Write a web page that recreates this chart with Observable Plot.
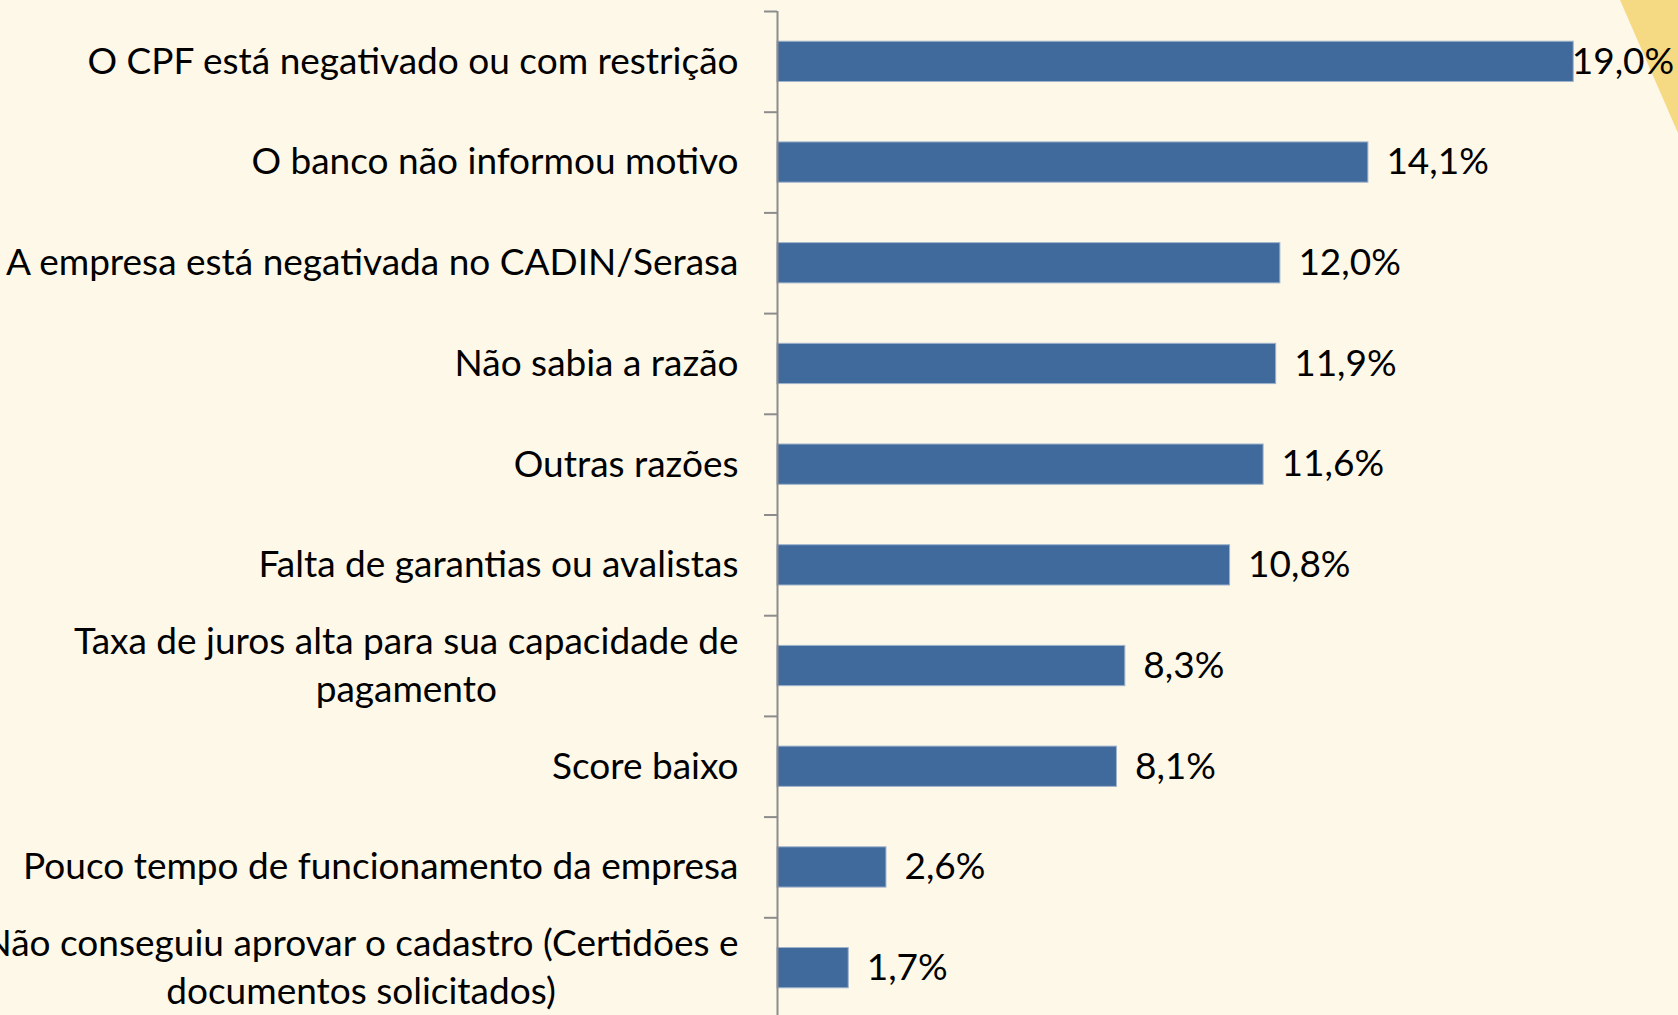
<!DOCTYPE html>
<html>
<head>
<meta charset="utf-8">
<script src="https://cdn.jsdelivr.net/npm/d3@7"></script>
<script src="https://cdn.jsdelivr.net/npm/@observablehq/plot@0.6"></script>
<style>
  html, body { margin: 0; padding: 0; background: #fef8e9; overflow: hidden; }
  #wrap { position: relative; width: 1678px; height: 1015px; overflow: hidden; }
  #tri { position: absolute; left: 0; top: 0; width: 1678px; height: 1015px; z-index: 0;
         background: #f6d983; clip-path: polygon(1620px 0, 1678px 0, 1678px 133px); }
  #chart { position: absolute; left: 0; top: 0; z-index: 1; }
</style>
</head>
<body>
<div id="wrap"><div id="tri"></div><div id="chart"></div></div>
<script>
const categories = [
  "O CPF está negativado ou com restrição",
  "O banco não informou motivo",
  "A empresa está negativada no CADIN/Serasa",
  "Não sabia a razão",
  "Outras razões",
  "Falta de garantias ou avalistas",
  "Taxa de juros alta para sua capacidade de\npagamento",
  "Score baixo",
  "Pouco tempo de funcionamento da empresa",
  "Não conseguiu aprovar o cadastro (Certidões e\ndocumentos solicitados)"
];
const values = [19.0, 14.1, 12.0, 11.9, 11.6, 10.8, 8.3, 8.1, 2.6, 1.7];

const data = categories.map((c, i) => ({cat: c, value: values[i]}));
const maxValue = d3.max(values);
const fmt = v => v.toFixed(1).replace(".", ",") + "%";

const W = 1678, H = 1015, mTop = 11, mBottom = -3, mLeft = 777;
const halfStep = (H - mTop - mBottom) / categories.length / 2;
const FS = 37, LH = 1.3;
const lhFix = -0.32 * (LH - 1) * FS;

const plot = Plot.plot({
  width: W,
  height: H,
  marginLeft: mLeft,
  marginRight: 0,
  marginTop: mTop,
  marginBottom: mBottom,
  style: {background: "transparent", fontFamily: "Lato, 'Open Sans', sans-serif", fontSize: FS + "px", color: "#000", overflow: "visible"},
  x: {domain: [0, 21.5], axis: null, round: false},
  y: {domain: categories, axis: null, paddingInner: 0.6, paddingOuter: 0.3, round: false},
  marks: [
    Plot.barX(data, {y: "cat", x: "value", fill: "#406a9b", stroke: "#9fb3cd", strokeWidth: 1}),
    Plot.ruleX([0], {stroke: "#8c8c8c", strokeWidth: 2}),
    Plot.ruleY(data, {y: "cat", x1: 0, x2: 0, insetLeft: -13, dy: -halfStep, stroke: "#8c8c8c", strokeWidth: 2}),
    Plot.text(data, {y: "cat", text: "cat", frameAnchor: "left", textAnchor: "end", dx: -39, dy: lhFix, lineHeight: LH, fill: "#000", className: "ylab"}),
    Plot.text(data.filter(d => d.value !== maxValue), {x: "value", y: "cat", text: d => fmt(d.value), textAnchor: "start", dx: 18, fill: "#000"}),
    Plot.text(data.filter(d => d.value === maxValue), {x: "value", y: "cat", text: d => fmt(d.value), textAnchor: "start", dx: -2, fill: "#000"})
  ]
});
document.getElementById("chart").appendChild(plot);

// Center wrapped category labels line-by-line (as in the original chart)
plot.querySelectorAll(".ylab text").forEach(t => {
  const spans = t.querySelectorAll("tspan");
  if (spans.length > 1) {
    const w = d3.max(Array.from(spans), s => s.getComputedTextLength());
    t.setAttribute("text-anchor", "middle");
    spans.forEach(s => s.setAttribute("x", -w / 2));
  }
});
</script>
</body>
</html>
